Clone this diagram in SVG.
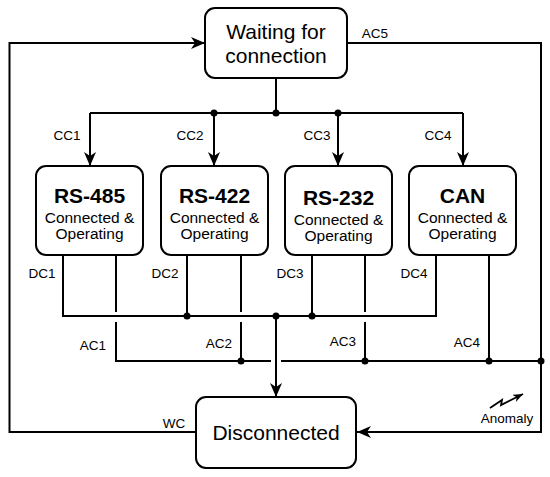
<svg xmlns="http://www.w3.org/2000/svg" width="550" height="477" viewBox="0 0 550 477">
<style>
.box{fill:#fff;stroke:#000;stroke-width:2}
.ln{fill:none;stroke:#000;stroke-width:2}
.t{font-family:"Liberation Sans",Arial,sans-serif;fill:#000;text-anchor:middle}
.big{font-size:21px}
.ttl{font-size:21px;font-weight:bold}
.sub{font-size:15.5px}
.lbl{font-size:13.5px}
.dot{fill:#000}
</style>
<defs>
<marker id="arr" viewBox="0 0 14 12" refX="14" refY="6" markerWidth="14" markerHeight="12" markerUnits="userSpaceOnUse" orient="auto">
<path d="M0,0 L14,6 L0,12 L4,6 z" fill="#000"/>
</marker>
<marker id="arrs" viewBox="0 0 10 8" refX="10" refY="4" markerWidth="10" markerHeight="8" markerUnits="userSpaceOnUse" orient="auto">
<path d="M0,0 L10,4 L0,8 L3,4 z" fill="#000"/>
</marker>
</defs>
<g id="connectors">
<path class="ln" d="M196,432 H9.5 V43 H205" marker-end="url(#arr)"/>
<path class="ln" d="M347,43 H541 V432 H357" marker-end="url(#arr)"/>
<path class="ln" d="M276,78 V113"/>
<path class="ln" d="M90,113 H463"/>
<path class="ln" d="M90,113 V166" marker-end="url(#arr)"/>
<path class="ln" d="M214,113 V166" marker-end="url(#arr)"/>
<path class="ln" d="M338,113 V166" marker-end="url(#arr)"/>
<path class="ln" d="M463,113 V166" marker-end="url(#arr)"/>
<path class="ln" d="M63,255 V316 H436 V255"/>
<path class="ln" d="M187,255 V316"/>
<path class="ln" d="M312,255 V316"/>
<path class="ln" d="M276,316 V397" marker-end="url(#arr)"/>
<path class="ln" d="M116,255 V312 M116,322 V361 H271 M281,361 H541"/>
<path class="ln" d="M241,255 V312 M241,322 V361"/>
<path class="ln" d="M365,255 V312 M365,322 V361"/>
<path class="ln" d="M489,255 V361"/>
<circle class="dot" cx="214" cy="113" r="3.5"/>
<circle class="dot" cx="276" cy="113" r="3.5"/>
<circle class="dot" cx="338" cy="113" r="3.5"/>
<circle class="dot" cx="187" cy="316" r="3.5"/>
<circle class="dot" cx="276" cy="316" r="3.5"/>
<circle class="dot" cx="312" cy="316" r="3.5"/>
<circle class="dot" cx="241" cy="361" r="3.5"/>
<circle class="dot" cx="365" cy="361" r="3.5"/>
<circle class="dot" cx="489" cy="361" r="3.5"/>
<circle class="dot" cx="541" cy="361" r="3.5"/>
<path fill="none" stroke="#000" stroke-width="1.8" d="M490,408 L502,400 L501,405 L523,394" marker-end="url(#arrs)"/>
<text class="t lbl" x="375" y="38">AC5</text>
<text class="t lbl" x="67" y="140">CC1</text>
<text class="t lbl" x="190" y="140">CC2</text>
<text class="t lbl" x="317" y="140">CC3</text>
<text class="t lbl" x="438" y="140">CC4</text>
<text class="t lbl" x="42" y="278">DC1</text>
<text class="t lbl" x="165" y="278">DC2</text>
<text class="t lbl" x="290" y="278">DC3</text>
<text class="t lbl" x="414" y="278">DC4</text>
<text class="t lbl" x="93" y="350">AC1</text>
<text class="t lbl" x="219" y="348">AC2</text>
<text class="t lbl" x="343" y="346">AC3</text>
<text class="t lbl" x="467" y="347">AC4</text>
<text class="t lbl" x="174" y="428">WC</text>
<text class="t lbl" x="507" y="423">Anomaly</text>
</g>
<g id="waiting">
<rect class="box" x="205" y="8" width="142" height="70" rx="10"/>
<text class="t big" x="276" y="39">Waiting for</text>
<text class="t big" x="276" y="63">connection</text>
</g>
<g id="rs485">
<rect class="box" x="36" y="166" width="107" height="89" rx="10"/>
<text class="t ttl" x="89.5" y="203">RS-485</text>
<text class="t sub" x="89.5" y="223">Connected &amp;</text>
<text class="t sub" x="89.5" y="239">Operating</text>
</g>
<g id="rs422">
<rect class="box" x="161" y="166" width="107" height="89" rx="10"/>
<text class="t ttl" x="214.5" y="203">RS-422</text>
<text class="t sub" x="214.5" y="223">Connected &amp;</text>
<text class="t sub" x="214.5" y="239">Operating</text>
</g>
<g id="rs232">
<rect class="box" x="285" y="166" width="107" height="89" rx="10"/>
<text class="t ttl" x="338.5" y="205">RS-232</text>
<text class="t sub" x="338.5" y="225">Connected &amp;</text>
<text class="t sub" x="338.5" y="241">Operating</text>
</g>
<g id="can">
<rect class="box" x="409" y="166" width="107" height="89" rx="10"/>
<text class="t ttl" x="462.5" y="203">CAN</text>
<text class="t sub" x="462.5" y="223">Connected &amp;</text>
<text class="t sub" x="462.5" y="239">Operating</text>
</g>
<g id="disconnected">
<rect class="box" x="196" y="397" width="160" height="71" rx="10"/>
<text class="t big" x="276" y="440">Disconnected</text>
</g>
</svg>
